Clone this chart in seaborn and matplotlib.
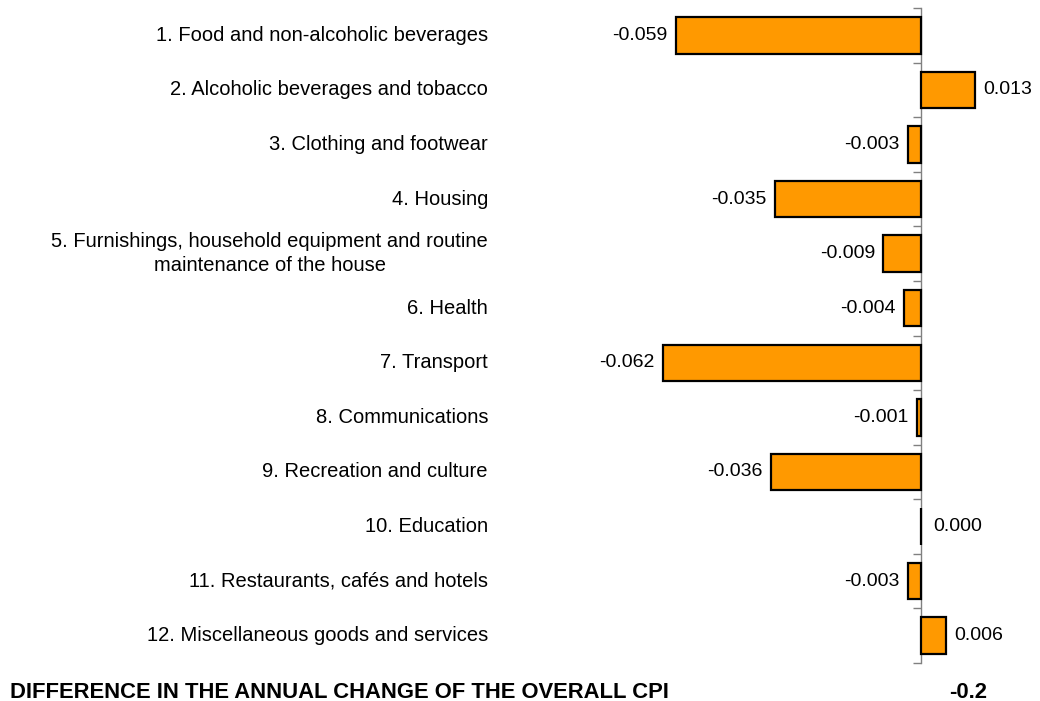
import matplotlib
matplotlib.use("Agg")
import matplotlib.pyplot as plt
import matplotlib.transforms as mtransforms
import numpy as np
import seaborn as sns

categories = [
    "1. Food and non-alcoholic beverages",
    "2. Alcoholic beverages and tobacco",
    "3. Clothing and footwear",
    "4. Housing",
    "5. Furnishings, household equipment and routine\nmaintenance of the house",
    "6. Health",
    "7. Transport",
    "8. Communications",
    "9. Recreation and culture",
    "10. Education",
    "11. Restaurants, cafés and hotels",
    "12. Miscellaneous goods and services",
]
values = [-0.059, 0.013, -0.003, -0.035, -0.009, -0.004,
          -0.062, -0.001, -0.036, 0.000, -0.003, 0.006]
total_label = "DIFFERENCE IN THE ANNUAL CHANGE OF THE OVERALL CPI"
total_change = -0.2

sns.set_style("white")
plt.rcParams["font.family"] = ["Liberation Sans", "DejaVu Sans"]
plt.rcParams["text.color"] = "black"

fig = plt.figure(figsize=(10.4, 7.01), dpi=100)
# axes placed so that x=0 sits at ~921px, rows span 8px..663px
ax = fig.add_axes([0.48, 1 - 663 / 701, 0.51, (663 - 8) / 701])

sns.barplot(x=values, y=list(range(len(values))), orient="h", color="#FF9900",
            saturation=1, edgecolor="black", linewidth=1.6, width=0.67, ax=ax)

px_per_unit = 4161
ax.set_xlim(-(921 - 499) / px_per_unit, (1030 - 921) / px_per_unit)
ax.set_ylim(len(values) - 0.5, -0.5)

# spine through zero with ticks at row boundaries
for s in ["top", "right", "bottom"]:
    ax.spines[s].set_visible(False)
ax.spines["left"].set_position(("data", 0))
ax.spines["left"].set_color("#808080")
ax.spines["left"].set_linewidth(1.0)
ax.spines["left"].set_zorder(0)
ax.set_xticks([])
ax.set_yticks(np.arange(-0.5, len(values), 1))
ax.set_yticklabels([])
ax.tick_params(axis="y", left=True, direction="out", length=6, width=1.0, color="#808080")
ax.set_xlabel("")
ax.set_ylabel("")

# category labels on the left
trans = mtransforms.blended_transform_factory(fig.transFigure, ax.transData)
for i, name in enumerate(categories):
    ax.text(488 / 1040, i, name, transform=trans, ha="right", va="center",
            multialignment="center", fontsize=14.5, linespacing=1.3, color="black")

# value labels
for i, v in enumerate(values):
    if v < 0:
        ax.annotate(f"{v:.3f}", (v, i), xytext=(-6, 0), textcoords="offset points",
                    ha="right", va="center", fontsize=14, color="black")
    else:
        ax.annotate(f"{v:.3f}", (v, i), xytext=(6 if v > 0 else 9, 0),
                    textcoords="offset points", ha="left", va="center", fontsize=14,
                    color="black")

fig.text(10 / 1040, 1 - 692 / 701, total_label, ha="left", va="center",
         fontsize=15.8, fontweight="bold", color="black")
fig.text(968 / 1040, 1 - 692 / 701, f"{total_change:.1f}", ha="center", va="center",
         fontsize=15.8, fontweight="bold", color="black")

fig.savefig("out.png", dpi=100)
